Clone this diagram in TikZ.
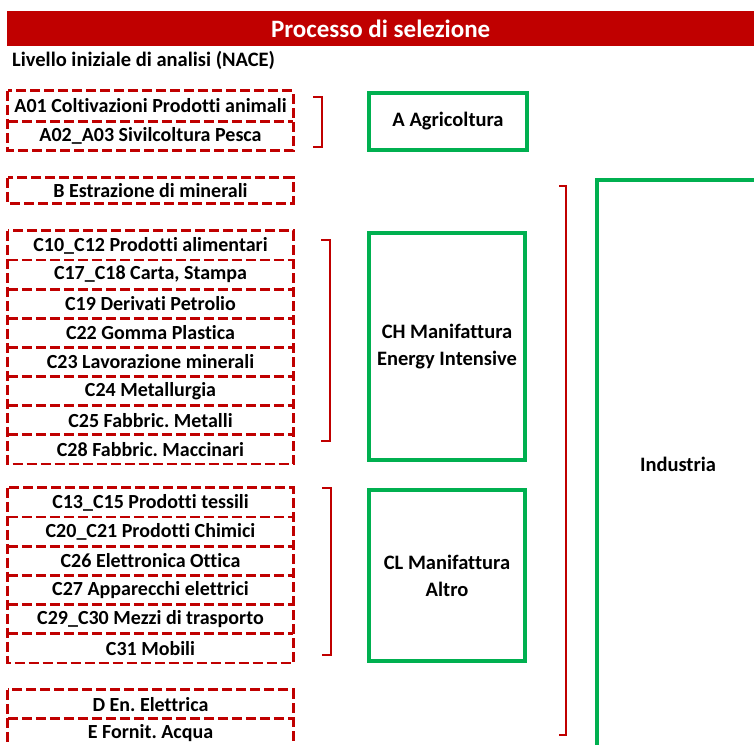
\documentclass[tikz,border=0pt]{standalone}
\usepackage{fontspec}
\setmainfont{Carlito}[Ligatures=NoCommon]
\usetikzlibrary{positioning}
\definecolor{dred}{HTML}{C00000}
\definecolor{sgreen}{HTML}{00B050}
\frenchspacing
\begin{document}
\begin{tikzpicture}[x=1pt,y=-1pt,
  rowtxt/.style={minimum width=285pt, inner sep=0pt, font=\bfseries\fontsize{20}{22}\selectfont, text=black},
  reddash/.style={draw=dred, line width=2.8pt, dash pattern=on 10pt off 4pt},
  bracket/.style={draw=dred, line width=2.6pt},
  gbox/.style={draw=sgreen, line width=4.5pt, align=center, font=\bfseries\fontsize{20.5}{27}\selectfont},
]
\useasboundingbox (0,0) rectangle (754,744);
\begin{scope}
\clip (0,0) rectangle (754,744);
% title
\node[fill=dred, minimum width=747pt, minimum height=35pt, inner sep=0pt, anchor=north west] (title) at (7,11) {};
\node[text=white, font=\bfseries\fontsize{25}{28}\selectfont] (titletxt) at (title.center) {Processo di selezione};
\node[anchor=west, font=\bfseries\fontsize{20.5}{22}\selectfont, inner sep=0pt] (livello) at (12,60) {Livello iniziale di analisi (NACE)};

% group A
\node[rowtxt, minimum height=30pt] (a01) at (150.5,106) {A01 Coltivazioni Prodotti animali};
\node[rowtxt, minimum height=29pt, below=0pt of a01] (a02) {A02\_A03 Sivilcoltura Pesca};
\draw[reddash] (a01.north west) rectangle (a02.south east);
\draw[reddash] (a01.south west) -- (a01.south east);

% group B
\node[rowtxt, minimum height=25pt] (b) at (150.5,190.5) {B Estrazione di minerali};
\draw[reddash] (b.north west) rectangle (b.south east);

% group CH
\node[rowtxt, minimum height=28.75pt] (c10) at (150.5,245.4) {C10\_C12 Prodotti alimentari};
\node[rowtxt, minimum height=28.75pt, below=0pt of c10] (c17) {C17\_C18 Carta, Stampa};
\node[rowtxt, minimum height=28.75pt, below=0pt of c17] (c19) {C19 Derivati Petrolio};
\node[rowtxt, minimum height=28.75pt, below=0pt of c19] (c22) {C22 Gomma Plastica};
\node[rowtxt, minimum height=28.75pt, below=0pt of c22] (c23) {C23 Lavorazione minerali};
\node[rowtxt, minimum height=28.75pt, below=0pt of c23] (c24) {C24 Metallurgia};
\node[rowtxt, minimum height=28.75pt, below=0pt of c24] (c25) {C25 Fabbric. Metalli};
\node[rowtxt, minimum height=28.75pt, below=0pt of c25] (c28) {C28 Fabbric. Maccinari};
\draw[reddash] (c10.north west) rectangle (c28.south east);
\foreach \n in {c10,c17,c19,c22,c23,c24,c25}
  \draw[reddash] (\n.south west) -- (\n.south east);

% group CL
\node[rowtxt, minimum height=28.8pt] (c13) at (150.5,502.4) {C13\_C15 Prodotti tessili};
\node[rowtxt, minimum height=28.8pt, below=0pt of c13] (c20) {C20\_C21 Prodotti Chimici};
\node[rowtxt, minimum height=28.8pt, below=0pt of c20] (c26) {C26 Elettronica Ottica};
\node[rowtxt, minimum height=28.8pt, below=0pt of c26] (c27) {C27 Apparecchi elettrici};
\node[rowtxt, minimum height=28.8pt, below=0pt of c27] (c29) {C29\_C30 Mezzi di trasporto};
\node[rowtxt, minimum height=28.8pt, below=0pt of c29] (c31) {C31 Mobili};
\draw[reddash] (c13.north west) rectangle (c31.south east);
\foreach \n in {c13,c20,c26,c27,c29}
  \draw[reddash] (\n.south west) -- (\n.south east);

% group DE
\node[rowtxt, minimum height=28.5pt] (d) at (150.5,704.25) {D En. Elettrica};
\node[rowtxt, minimum height=28.5pt, below=0pt of d] (e) {E Fornit. Acqua};
\draw[reddash] (d.north west) rectangle (e.south east);
\draw[reddash] (d.south west) -- (d.south east);

% brackets
\draw[bracket] (313,97) -- (322,97) -- (322,147) -- (313,147);
\draw[bracket] (321,240) -- (330,240) -- (330,441) -- (321,441);
\draw[bracket] (322,488) -- (331,488) -- (331,655) -- (322,655);
\draw[bracket] (559,186) -- (566,186) -- (566,735) -- (559,735);

% green boxes
\node[gbox, minimum width=158pt, minimum height=57pt] (agr) at (448,121.5) {A Agricoltura};
\node[gbox, minimum width=156pt, minimum height=227pt] (ch) at (447,346.5) {CH Manifattura\\Energy Intensive};
\node[gbox, minimum width=156pt, minimum height=171pt] (cl) at (447,575.5) {CL Manifattura\\Altro};
\node[gbox, minimum width=162pt, minimum height=568pt] (ind) at (678,464) {Industria};
\end{scope}
\end{tikzpicture}
\end{document}
